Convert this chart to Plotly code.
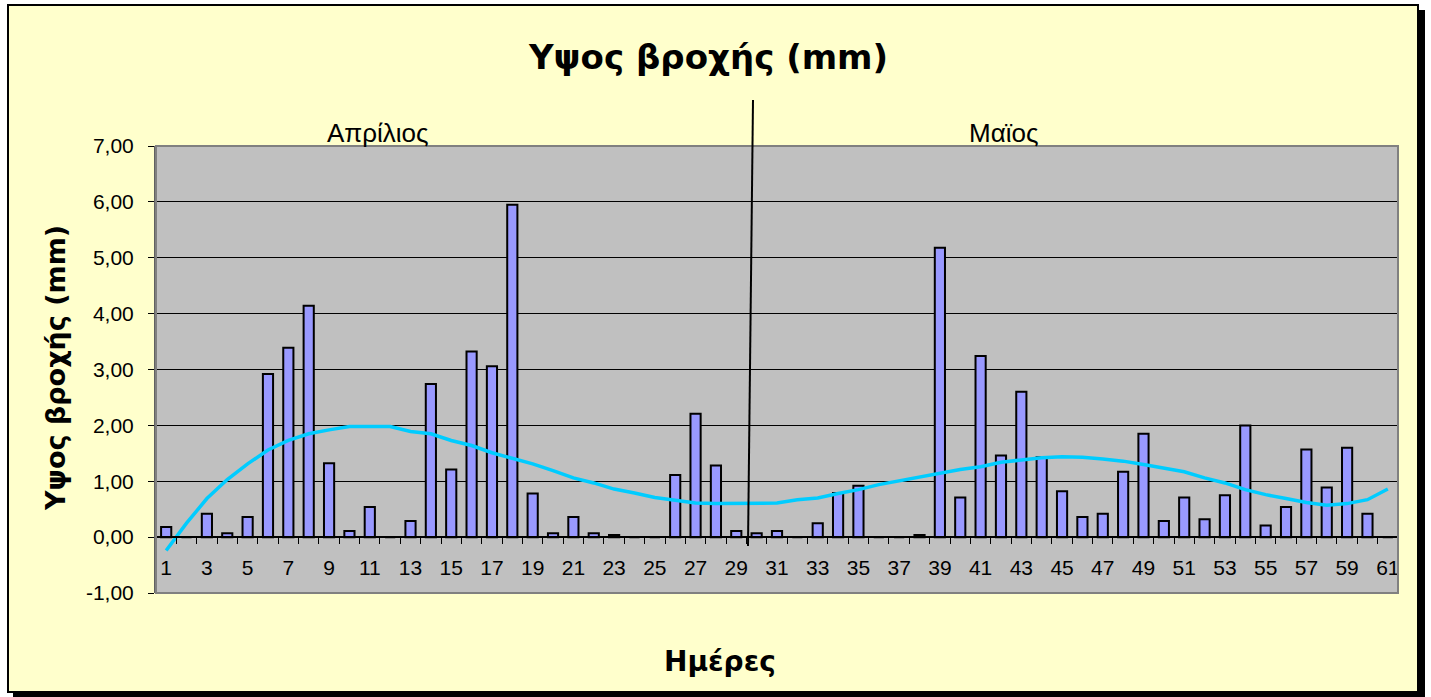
import plotly.graph_objects as go

# ---------------- data ----------------
days = list(range(1, 62))
rain_mm = [
    0.18, 0.00, 0.42, 0.07, 0.36, 2.92, 3.39, 4.14, 1.32, 0.11,
    0.54, 0.00, 0.29, 2.74, 1.21, 3.32, 3.06, 5.95, 0.78, 0.07,
    0.36, 0.07, 0.04, 0.00, 0.00, 1.11, 2.21, 1.28, 0.11, 0.07,
    0.11, 0.00, 0.25, 0.79, 0.92, 0.00, 0.00, 0.04, 5.18, 0.71,
    3.24, 1.46, 2.60, 1.43, 0.82, 0.36, 0.42, 1.17, 1.85, 0.29,
    0.71, 0.32, 0.75, 2.00, 0.21, 0.54, 1.57, 0.89, 1.60, 0.42,
    0.00,
]
trend_mm = [
    -0.24, 0.25, 0.69, 1.03, 1.31, 1.56, 1.73, 1.85, 1.92, 1.98,
    1.98, 1.98, 1.89, 1.85, 1.73, 1.64, 1.51, 1.41, 1.31, 1.19,
    1.06, 0.97, 0.86, 0.79, 0.71, 0.66, 0.61, 0.60, 0.60, 0.60,
    0.61, 0.67, 0.70, 0.78, 0.85, 0.94, 1.01, 1.07, 1.14, 1.21,
    1.26, 1.34, 1.38, 1.42, 1.44, 1.43, 1.40, 1.36, 1.30, 1.23,
    1.17, 1.06, 0.97, 0.85, 0.76, 0.69, 0.62, 0.57, 0.60, 0.67,
    0.86,
]
x_tick_vals = list(range(1, 62, 2))
x_tick_labels = [str(v) for v in x_tick_vals]
y_tick_vals = [-1, 0, 1, 2, 3, 4, 5, 6, 7]
y_tick_labels = ["-1,00", "0,00", "1,00", "2,00", "3,00", "4,00", "5,00", "6,00", "7,00"]
month_labels = ["Απρίλιος", "Μαϊος"]
title_text = "Υψος βροχής (mm)"
y_title = "Υψος βροχής (mm)"
x_title = "Ημέρες"

# ---------------- layout geometry ----------------
W, H = 1431, 697
L, R, T, B = 156, 1398, 146, 593  # plot area in pixels


def px(x):
    return (x - L) / (R - L)


def py(y):
    return (B - y) / (B - T)


YMIN, YMAX = -1, 7
zero_pos = (0 - YMIN) / (YMAX - YMIN)

fig = go.Figure()
fig.add_trace(go.Bar(
    x=days, y=rain_mm, width=0.5,
    marker=dict(color="#9999FF", line=dict(color="black", width=2)),
    hoverinfo="skip", showlegend=False,
))
fig.add_trace(go.Scatter(
    x=days, y=trend_mm, mode="lines",
    line=dict(color="#00CCFF", width=3.5),
    hoverinfo="skip", showlegend=False,
))

sans = "Liberation Sans, Arial, sans-serif"
tick_font = dict(family=sans, size=21, color="black")
bold_font = "DejaVu Sans, Verdana, sans-serif"

fig.update_layout(
    width=W, height=H,
    margin=dict(l=L, r=W - R, t=T, b=H - B, pad=0),
    paper_bgcolor="#FFFFCC",
    plot_bgcolor="#C0C0C0",
    bargap=0.5,
    xaxis=dict(
        range=[0.5, 61.5], anchor="free", position=zero_pos,
        showgrid=False, zeroline=False,
        showline=True, linecolor="black", linewidth=1.5,
        tickmode="array", tickvals=x_tick_vals, ticktext=x_tick_labels,
        ticks="", tickfont=tick_font, ticklabelstandoff=12,
        minor=dict(tickmode="array", tickvals=[d + 0.5 for d in [0] + days],
                   ticks="outside", ticklen=6, tickcolor="black", tickwidth=1,
                   showgrid=False),
    ),
    yaxis=dict(
        range=[YMIN, YMAX], domain=[0, 1],
        tickmode="array", tickvals=y_tick_vals, ticktext=y_tick_labels,
        ticks="outside", ticklen=6, tickcolor="black", tickwidth=1,
        tickfont=tick_font, ticklabelstandoff=10,
        showgrid=True, gridcolor="black", gridwidth=1,
        zeroline=False, showline=True, linecolor="#606060", linewidth=2,
    ),
)

shapes = []
# plot area border
shapes.append(dict(type="rect", xref="paper", yref="paper", x0=0, x1=1, y0=0, y1=1,
                   line=dict(color="#808080", width=2), layer="above"))
# white margins outside the chart frame
for (x0, y0, x1, y1) in [(0, 0, 7, H), (0, 0, W, 5), (1418, 0, W, H), (0, 692, W, H)]:
    shapes.append(dict(type="rect", xref="paper", yref="paper",
                       x0=px(x0), x1=px(x1), y0=py(y1), y1=py(y0),
                       fillcolor="white", line=dict(width=0), layer="above"))
# shadow
for (x0, y0, x1, y1) in [(1418, 10, 1425, 697), (13, 692, 1425, 697)]:
    shapes.append(dict(type="rect", xref="paper", yref="paper",
                       x0=px(x0), x1=px(x1), y0=py(y1), y1=py(y0),
                       fillcolor="black", line=dict(width=0), layer="above"))
# frame
shapes.append(dict(type="rect", xref="paper", yref="paper",
                   x0=px(8), x1=px(1418), y0=py(692), y1=py(5),
                   line=dict(color="black", width=2), layer="above"))
# month separator line
shapes.append(dict(type="line", xref="paper", yref="paper",
                   x0=px(753), y0=py(100), x1=px(748), y1=py(546),
                   line=dict(color="black", width=2), layer="above"))
fig.update_layout(shapes=shapes)

annotations = [
    dict(text="<b>" + title_text + "</b>", x=px(708), y=py(57),
         font=dict(family=bold_font, size=34, color="black")),
    dict(text=month_labels[0], x=px(378), y=py(133),
         font=dict(family=sans, size=26, color="black")),
    dict(text=month_labels[1], x=px(1003), y=py(133),
         font=dict(family=sans, size=26, color="black")),
    dict(text="<b>" + y_title + "</b>", x=px(55), y=py(368), textangle=-90,
         font=dict(family=bold_font, size=27, color="black")),
    dict(text="<b>" + x_title + "</b>", x=px(720), y=py(661),
         font=dict(family=bold_font, size=28, color="black")),
]
for a in annotations:
    a.update(xref="paper", yref="paper", showarrow=False, xanchor="center", yanchor="middle")
fig.update_layout(annotations=annotations)

fig.write_html(
    "out.html",
    config={"displayModeBar": False},
    post_script="document.body.style.margin='0';document.body.style.overflow='hidden';",
)
